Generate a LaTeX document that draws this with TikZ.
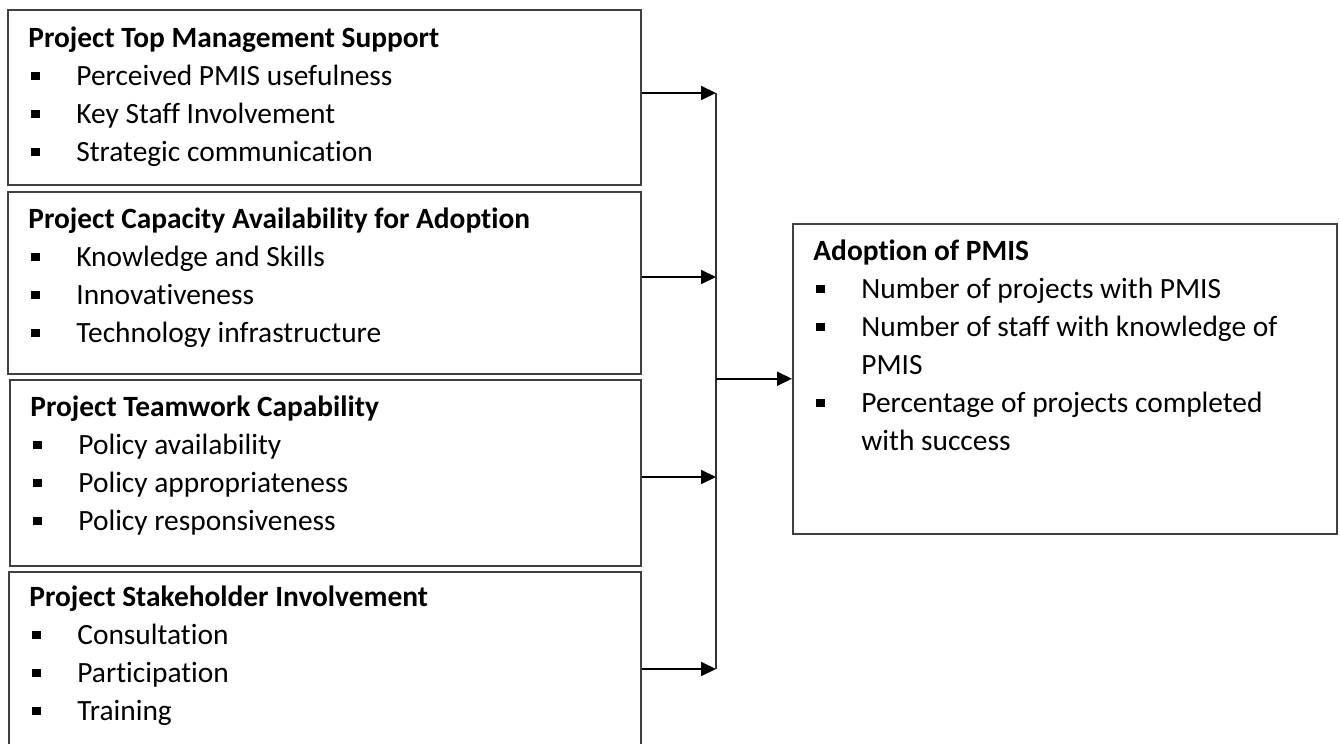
\documentclass[tikz,border=0pt]{standalone}
\usepackage{fontspec}
\setmainfont{Carlito}[Ligatures=NoCommon]
\usetikzlibrary{arrows.meta}

\begin{document}
\begin{tikzpicture}[x=0.5pt,y=-0.5pt,>={Triangle[length=7.5pt,width=7pt]}]
 \tikzstyle{factor} = [draw=black!75,line width=0.75pt,inner sep=0,anchor=north west]
 \tikzstyle{items} = [inner sep=0,anchor=north west,align=left,font=\fontsize{14.7}{19}\selectfont]
 \tikzstyle{link} = [->,line width=1pt]
 \newcommand{\itm}[1]{\\\makebox[24pt][l]{\hspace{1.5pt}\rule[2.4pt]{4.2pt}{4.2pt}}#1}

 \useasboundingbox (0,0) rectangle (1340,744);

% Independent variables
 \node[factor,minimum width=316.5pt,minimum height=87.5pt] (p1) at (7,9) {};
 \node[factor,minimum width=316.5pt,minimum height=91pt] (p2) at (7,191) {};
 \node[factor,minimum width=315.5pt,minimum height=93pt] (p3) at (9,379) {};
 \node[factor,minimum width=316pt,minimum height=100pt] (p4) at (8,571) {};

 \node[items] (t1) at ([shift={(21,11)}]p1.north west)
   {\strut\textbf{Project Top Management Support}\itm{Perceived PMIS usefulness}\itm{Key Staff Involvement}\itm{Strategic communication}};
 \node[items] (t2) at ([shift={(21,10)}]p2.north west)
   {\strut\textbf{Project Capacity Availability for Adoption}\itm{Knowledge and Skills}\itm{Innovativeness}\itm{Technology infrastructure}};
 \node[items] (t3) at ([shift={(21,10)}]p3.north west)
   {\strut\textbf{Project Teamwork Capability}\itm{Policy availability}\itm{Policy appropriateness}\itm{Policy responsiveness}};
 \node[items] (t4) at ([shift={(21,8)}]p4.north west)
   {\strut\textbf{Project Stakeholder Involvement}\itm{Consultation}\itm{Participation}\itm{Training}};

% Dependent variable
 \node[factor,minimum width=272pt,minimum height=155pt] (adopt) at (792,223) {};
 \node[items] (ta) at ([shift={(21,10)}]adopt.north west)
   {\strut\textbf{Adoption of PMIS}\itm{Number of projects with PMIS}\itm{Number of staff with knowledge of}\\\hspace*{24pt}PMIS\itm{Percentage of projects completed}\\\hspace*{24pt}with success};

% Bus line and arrows
 \coordinate (j1) at (716,93);
 \coordinate (j2) at (716,277);
 \coordinate (j3) at (716,477);
 \coordinate (j4) at (716,669);
 \draw[line width=0.6pt,black!80] (j1) -- (j4);
 \draw[link] (p1.east |- j1) -- (j1);
 \draw[link] (p2.east |- j2) -- (j2);
 \draw[link] (p3.east |- j3) -- (j3);
 \draw[link] (p4.east |- j4) -- (j4);
 \draw[link] (j1 |- adopt.west) -- (adopt.west);
\end{tikzpicture}
\end{document}
